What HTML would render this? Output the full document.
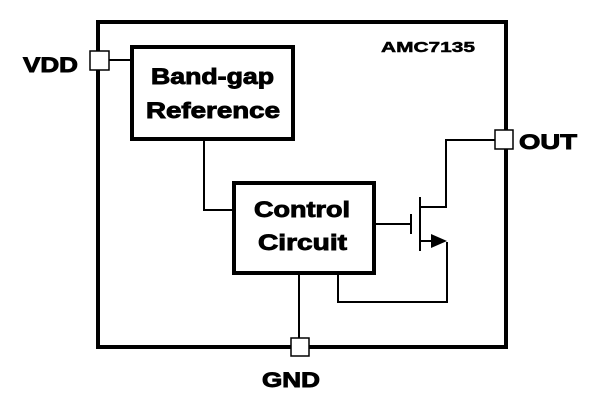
<!DOCTYPE html>
<html><head><style>body{margin:0;background:#fff}</style></head><body>
<svg width="613" height="406" xmlns="http://www.w3.org/2000/svg" style="display:block">
<g fill="none" stroke="#000">
<rect x="98" y="22" width="408" height="325" stroke-width="4"/>
<rect x="132" y="47" width="161" height="92" stroke-width="4"/>
<rect x="234" y="183" width="140" height="90" stroke-width="4"/>
<g stroke-width="2">
<path d="M109 60H132"/>
<path d="M204 139V210H234"/>
<path d="M299 273V339"/>
<path d="M374 224H411"/>
<path d="M411 214V234" />
<path d="M420 197V251"/>
<path d="M420 207H446V140H495"/>
<path d="M420 241H432"/>
<path d="M447 242V302H338V273"/>
</g>
</g>
<polygon points="431,234 447,241 431,248" fill="#000"/>
<g fill="#fff" stroke="#000" stroke-width="1.5">
<rect x="90" y="51" width="19" height="19"/>
<rect x="495" y="130" width="18" height="19"/>
<rect x="291" y="338" width="18" height="18"/>
</g>
<g font-family="Liberation Sans, sans-serif" font-weight="bold" fill="#000" stroke="#000" stroke-width="0.9" lengthAdjust="spacingAndGlyphs">
<text x="23" y="72" font-size="21" textLength="55" lengthAdjust="spacingAndGlyphs">VDD</text>
<text x="519" y="149" font-size="21" textLength="58" lengthAdjust="spacingAndGlyphs">OUT</text>
<text x="262" y="387" font-size="21" textLength="58" lengthAdjust="spacingAndGlyphs">GND</text>
<text x="151" y="84" font-size="22" textLength="123" lengthAdjust="spacingAndGlyphs">Band-gap</text>
<text x="146" y="118" font-size="22" textLength="134" lengthAdjust="spacingAndGlyphs">Reference</text>
<text x="254" y="217" font-size="22" textLength="96" lengthAdjust="spacingAndGlyphs">Control</text>
<text x="258" y="250" font-size="22" textLength="89" lengthAdjust="spacingAndGlyphs">Circuit</text>
<text x="381" y="52" font-size="15" stroke-width="0.5" textLength="94" lengthAdjust="spacingAndGlyphs">AMC7135</text>
</g>
</svg>
</body></html>
